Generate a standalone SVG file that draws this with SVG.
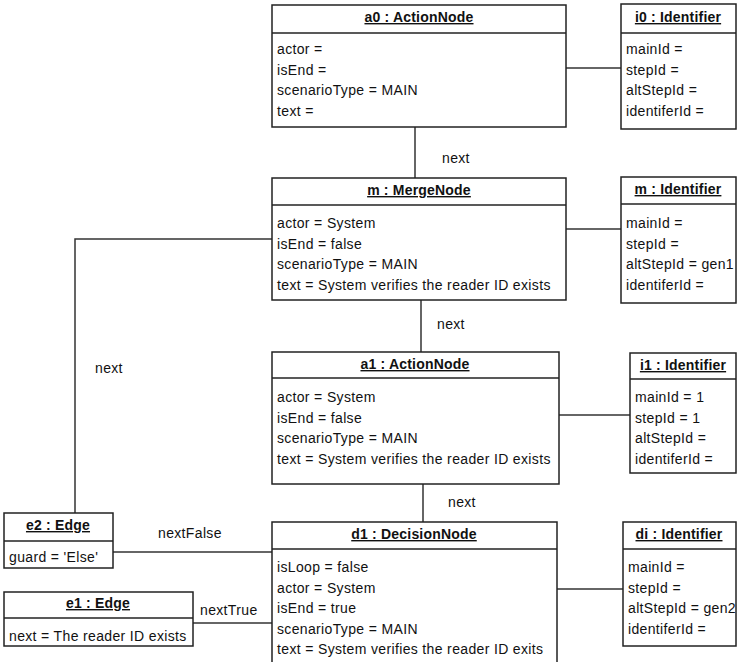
<svg xmlns="http://www.w3.org/2000/svg" width="737" height="662" viewBox="0 0 737 662">
  <style>
    .box { fill: #ffffff; stroke: #222222; stroke-width: 1.5; }
    .sep { stroke: #222222; stroke-width: 1.5; }
    .link { fill: none; stroke: #333333; stroke-width: 1.5; }
    .title { font-family: "Liberation Sans", Arial, sans-serif; font-size: 14px; letter-spacing: 0.2px; font-weight: bold; text-anchor: middle; text-decoration: underline; fill: #111111; }
    .attr { font-family: "Liberation Sans", Arial, sans-serif; font-size: 14px; letter-spacing: 0.35px; fill: #111111; }
    .lbl { font-family: "Liberation Sans", Arial, sans-serif; font-size: 14px; letter-spacing: 0.35px; fill: #111111; }
  </style>
  <rect width="737" height="662" fill="#ffffff"/>

  <!-- associations -->
  <g id="connectors">
    <line class="link" x1="566" y1="68" x2="621" y2="68"/>
    <line class="link" x1="415" y1="127" x2="415" y2="178"/>
    <line class="link" x1="566" y1="229" x2="621" y2="229"/>
    <line class="link" x1="421" y1="300" x2="421" y2="352"/>
    <polyline class="link" points="272,239 75,239 75,513"/>
    <line class="link" x1="559" y1="415" x2="630" y2="415"/>
    <line class="link" x1="423" y1="484" x2="423" y2="522"/>
    <line class="link" x1="113" y1="552" x2="272" y2="552"/>
    <line class="link" x1="193" y1="623" x2="272" y2="623"/>
    <line class="link" x1="557" y1="589" x2="623" y2="589"/>
    <text class="lbl" x="442" y="163">next</text>
    <text class="lbl" x="437" y="329">next</text>
    <text class="lbl" x="448" y="507">next</text>
    <text class="lbl" x="95" y="373">next</text>
    <text class="lbl" x="158" y="538">nextFalse</text>
    <text class="lbl" x="200" y="615">nextTrue</text>
  </g>

  <g id="a0">
    <rect class="box" x="272" y="5" width="294" height="122"/>
    <line class="sep" x1="272" y1="33" x2="566" y2="33"/>
    <text class="title" x="419" y="22">a0 : ActionNode</text>
    <text class="attr" x="277" y="54">actor =</text>
    <text class="attr" x="277" y="74.5">isEnd =</text>
    <text class="attr" x="277" y="95">scenarioType = MAIN</text>
    <text class="attr" x="277" y="115.5">text =</text>
  </g>

  <g id="i0">
    <rect class="box" x="621" y="4" width="115" height="125"/>
    <line class="sep" x1="621" y1="33" x2="736" y2="33"/>
    <text class="title" x="678" y="22">i0 : Identifier</text>
    <text class="attr" x="626" y="54">mainId =</text>
    <text class="attr" x="626" y="74.5">stepId =</text>
    <text class="attr" x="626" y="95">altStepId =</text>
    <text class="attr" x="626" y="115.5">identiferId =</text>
  </g>

  <g id="m">
    <rect class="box" x="272" y="178" width="294" height="122"/>
    <line class="sep" x1="272" y1="205" x2="566" y2="205"/>
    <text class="title" x="419" y="195">m : MergeNode</text>
    <text class="attr" x="277" y="228">actor = System</text>
    <text class="attr" x="277" y="248.5">isEnd = false</text>
    <text class="attr" x="277" y="269">scenarioType = MAIN</text>
    <text class="attr" x="277" y="289.5">text = System verifies the reader ID exists</text>
  </g>

  <g id="mi">
    <rect class="box" x="621" y="177" width="115" height="126"/>
    <line class="sep" x1="621" y1="204" x2="736" y2="204"/>
    <text class="title" x="678" y="194">m : Identifier</text>
    <text class="attr" x="626" y="228">mainId =</text>
    <text class="attr" x="626" y="248.5">stepId =</text>
    <text class="attr" x="626" y="269">altStepId = gen1</text>
    <text class="attr" x="626" y="289.5">identiferId =</text>
  </g>

  <g id="a1">
    <rect class="box" x="272" y="352" width="287" height="132"/>
    <line class="sep" x1="272" y1="378" x2="559" y2="378"/>
    <text class="title" x="415" y="369">a1 : ActionNode</text>
    <text class="attr" x="277" y="402">actor = System</text>
    <text class="attr" x="277" y="422.5">isEnd = false</text>
    <text class="attr" x="277" y="443">scenarioType = MAIN</text>
    <text class="attr" x="277" y="463.5">text = System verifies the reader ID exists</text>
  </g>

  <g id="i1">
    <rect class="box" x="630" y="353" width="106" height="120"/>
    <line class="sep" x1="630" y1="379" x2="736" y2="379"/>
    <text class="title" x="683" y="370">i1 : Identifier</text>
    <text class="attr" x="635" y="402">mainId = 1</text>
    <text class="attr" x="635" y="422.5">stepId = 1</text>
    <text class="attr" x="635" y="443">altStepId =</text>
    <text class="attr" x="635" y="463.5">identiferId =</text>
  </g>

  <g id="d1">
    <rect class="box" x="272" y="522" width="285" height="150"/>
    <line class="sep" x1="272" y1="549" x2="557" y2="549"/>
    <text class="title" x="414" y="539">d1 : DecisionNode</text>
    <text class="attr" x="277" y="572">isLoop = false</text>
    <text class="attr" x="277" y="592.5">actor = System</text>
    <text class="attr" x="277" y="613">isEnd = true</text>
    <text class="attr" x="277" y="633.5">scenarioType = MAIN</text>
    <text class="attr" x="277" y="654">text = System verifies the reader ID exits</text>
  </g>

  <g id="di">
    <rect class="box" x="623" y="522" width="113" height="124"/>
    <line class="sep" x1="623" y1="549" x2="736" y2="549"/>
    <text class="title" x="679" y="539">di : Identifier</text>
    <text class="attr" x="628" y="572">mainId =</text>
    <text class="attr" x="628" y="592.5">stepId =</text>
    <text class="attr" x="628" y="613">altStepId = gen2</text>
    <text class="attr" x="628" y="633.5">identiferId =</text>
  </g>

  <g id="e2">
    <rect class="box" x="4" y="513" width="109" height="55"/>
    <line class="sep" x1="4" y1="541" x2="113" y2="541"/>
    <text class="title" x="58" y="530">e2 : Edge</text>
    <text class="attr" x="9" y="562">guard = 'Else'</text>
  </g>

  <g id="e1">
    <rect class="box" x="4" y="592" width="189" height="54"/>
    <line class="sep" x1="4" y1="618" x2="193" y2="618"/>
    <text class="title" x="98" y="608">e1 : Edge</text>
    <text class="attr" x="9" y="641">next = The reader ID exists</text>
  </g>
</svg>
